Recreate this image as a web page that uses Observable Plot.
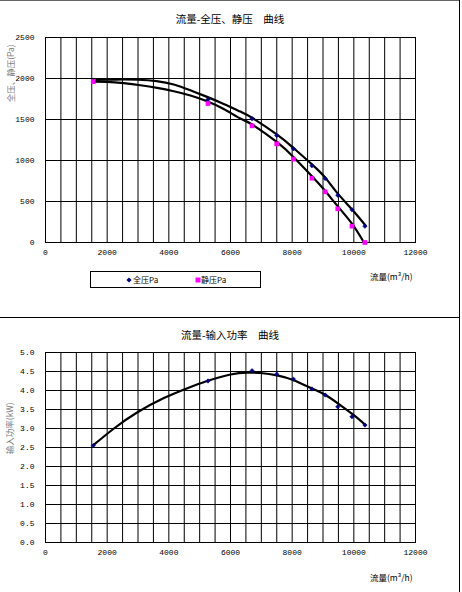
<!DOCTYPE html>
<html>
<head>
<meta charset="utf-8">
<script src="https://cdn.jsdelivr.net/npm/d3@7"></script>
<script src="https://cdn.jsdelivr.net/npm/@observablehq/plot@0.6"></script>
<style>
  body { margin: 0; background: #fff; }
  #page { position: relative; width: 462px; height: 592px; overflow: hidden; background: #fff;
          font-family: "Noto Sans CJK SC", sans-serif; color: #000; }
  .abs { position: absolute; }
  .title { font-size: 10.5px; width: 460px; text-align: center; left: 0; line-height: 1; }
  .ytitle { font-size: 8.5px; color: #808080; transform: rotate(-90deg); transform-origin: center center;
            white-space: nowrap; line-height: 1; }
  .xtitle { font-size: 8.5px; line-height: 1; white-space: nowrap; }
  .legend { border: 1px solid #000; font-size: 8px; line-height: 1; }
  .legend span { position: absolute; top: 4px; white-space: nowrap; }
</style>
</head>
<body>
<div id="page">
  <div class="abs" style="left:0;top:0;width:460px;height:1px;background:#666"></div>
  <div class="abs" style="left:459px;top:0;width:1px;height:592px;background:#000"></div>
  <div class="abs" style="left:0;top:317px;width:460px;height:1px;background:#000"></div>

  <div class="abs title" style="top:14px">流量-全压、静压　曲线</div>
  <div class="abs title" style="top:330px">流量-输入功率　曲线</div>

  <div id="chart1" class="abs" style="left:0;top:0"></div>
  <div id="chart2" class="abs" style="left:0;top:320px"></div>

  <div class="abs ytitle" style="left:-22px;top:69px;width:64px;text-align:center">全压、静压(Pa)</div>
  <div class="abs ytitle" style="left:-20px;top:424px;width:58px;text-align:center">输入功率(kW)</div>

  <div class="abs xtitle" style="left:370px;top:272px">流量(m³/h)</div>
  <div class="abs xtitle" style="left:370px;top:573px">流量(m³/h)</div>

  <div class="abs legend" style="left:90px;top:271px;width:169px;height:15px">
    <svg class="abs" style="left:35px;top:5px" width="6" height="6"><path d="M3,0.4L5.6,3L3,5.6L0.4,3Z" fill="#000080"/></svg>
    <span style="left:42px">全压Pa</span>
    <svg class="abs" style="left:104px;top:5px" width="6" height="6"><rect x="0.5" y="0.5" width="5" height="5" fill="#ff00ff"/></svg>
    <span style="left:110px">静压Pa</span>
  </div>
</div>

<script>
// measured points (flow m3/h)
const flow = [1550, 5270, 6700, 7500, 8040, 8640, 9070, 9480, 9940, 10360];
const totalPa = [1967, 1745, 1508, 1305, 1143, 935, 780, 577, 399, 199];
const staticPa = [1963, 1695, 1423, 1203, 1016, 784, 618, 411, 199, 0];
const powerKw = [2.55, 4.25, 4.52, 4.43, 4.30, 4.04, 3.88, 3.57, 3.31, 3.09];

// trend lines
const totalCurveX = [1550, 2000, 2500, 3000, 3600, 4160, 4700, 5240, 5780, 6320, 6700, 7510, 8050, 8650, 9080, 9460, 9950, 10380];
const totalCurveY = [1982, 1986, 1988, 1985, 1968, 1927, 1856, 1776, 1690, 1597, 1521, 1315, 1150, 950, 788, 605, 400, 207];
const staticCurveX = [1550, 2000, 2540, 3080, 3620, 4160, 4700, 5240, 5780, 6320, 6700, 7510, 8050, 8650, 9080, 9460, 9950, 10330];
const staticCurveY = [1963, 1960, 1943, 1918, 1886, 1845, 1793, 1723, 1628, 1512, 1439, 1223, 1040, 805, 625, 450, 225, 0];
const powerCurveX = [1550, 2220, 2970, 3840, 4600, 5240, 6000, 6540, 6970, 7510, 8050, 8650, 9080, 9570, 10000, 10380];
const powerCurveY = [2.56, 3.00, 3.42, 3.80, 4.06, 4.25, 4.42, 4.47, 4.46, 4.40, 4.27, 4.05, 3.88, 3.61, 3.35, 3.09];

const xTicks = [0, 2000, 4000, 6000, 8000, 10000, 12000];
const pressureTicks = [0, 500, 1000, 1500, 2000, 2500];
const powerTicks = [0, 0.5, 1.0, 1.5, 2.0, 2.5, 3.0, 3.5, 4.0, 4.5, 5.0];

const xGrid = d3.range(0, 12001, 500);
const tickFont = { fontFamily: "'Liberation Mono', monospace", fontSize: "8px" };
const plain = d3.format("d");

const pts = (xs, ys) => xs.map((x, i) => ({ x, y: ys[i] }));

const pressure = Plot.plot({
  width: 460,
  height: 300,
  marginLeft: 45,
  marginRight: 45,
  marginTop: 37,
  marginBottom: 58,
  style: { ...tickFont, background: "transparent", color: "#000" },
  x: { domain: [0, 12000] },
  y: { domain: [0, 2500] },
  marks: [
    Plot.gridX(xGrid, { stroke: "#000", strokeOpacity: 1 }),
    Plot.gridY(pressureTicks, { stroke: "#000", strokeOpacity: 1 }),
    Plot.frame({ stroke: "#000" }),
    Plot.axisX(xTicks, { tickSize: 0, tickPadding: 7, label: null, tickFormat: plain, fill: "#000" }),
    Plot.axisY(pressureTicks, { tickSize: 0, tickPadding: 11, label: null, tickFormat: plain, fill: "#000" }),
    Plot.line(pts(totalCurveX, totalCurveY), { x: "x", y: "y", stroke: "#000", strokeWidth: 2.2, curve: "natural" }),
    Plot.line(pts(staticCurveX, staticCurveY), { x: "x", y: "y", stroke: "#000", strokeWidth: 2.2, curve: "natural" }),
    Plot.dot(pts(flow, totalPa), { x: "x", y: "y", symbol: "diamond2", r: 2, fill: "#000080", stroke: "#000080", strokeWidth: 0.5 }),
    Plot.dot(pts(flow, staticPa), { x: "x", y: "y", symbol: "square", r: 2.65, fill: "#ff00ff", stroke: "none" })
  ]
});
document.getElementById("chart1").append(pressure);

const power = Plot.plot({
  width: 460,
  height: 250,
  marginLeft: 45,
  marginRight: 45,
  marginTop: 32,
  marginBottom: 28,
  style: { ...tickFont, background: "transparent", color: "#000" },
  x: { domain: [0, 12000] },
  y: { domain: [0, 5] },
  marks: [
    Plot.gridX(xGrid, { stroke: "#000", strokeOpacity: 1 }),
    Plot.gridY(powerTicks, { stroke: "#000", strokeOpacity: 1 }),
    Plot.frame({ stroke: "#000" }),
    Plot.axisX(xTicks, { tickSize: 0, tickPadding: 7, label: null, tickFormat: plain, fill: "#000" }),
    Plot.axisY(powerTicks, { tickSize: 0, tickPadding: 11, label: null, tickFormat: d3.format(".1f"), fill: "#000" }),
    Plot.line(pts(powerCurveX, powerCurveY), { x: "x", y: "y", stroke: "#000", strokeWidth: 2.2, curve: "natural" }),
    Plot.dot(pts(flow, powerKw), { x: "x", y: "y", symbol: "diamond2", r: 2, fill: "#000080", stroke: "#000080", strokeWidth: 0.5 })
  ]
});
document.getElementById("chart2").append(power);
</script>
</body>
</html>
